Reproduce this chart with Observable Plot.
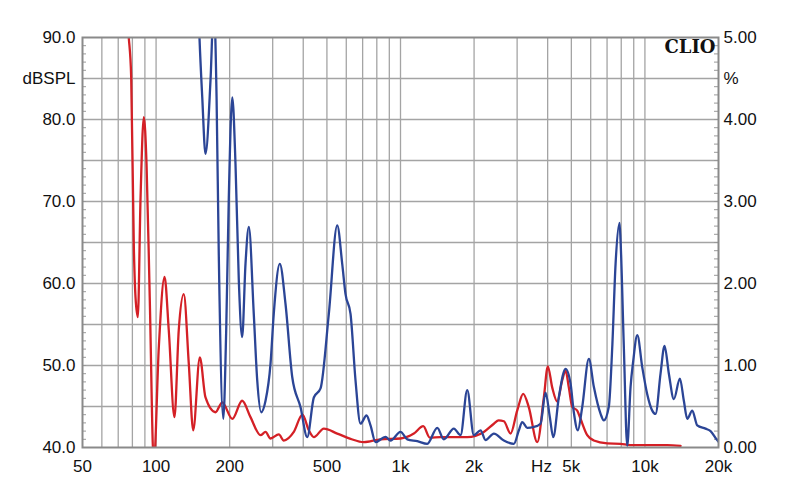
<!DOCTYPE html>
<html>
<head>
<meta charset="utf-8">
<script src="https://cdn.jsdelivr.net/npm/d3@7"></script>
<script src="https://cdn.jsdelivr.net/npm/@observablehq/plot@0.6"></script>
<style>
  html, body { margin: 0; padding: 0; background: #fff; }
</style>
</head>
<body>
<div id="chart"></div>
<script>
// Red curve: frequency (Hz) and level (dBSPL, left axis)
const redFreq = [76, 77.3, 79.1, 81.1, 82.4, 84.2, 86.4, 89.1, 91.4, 94.2, 97.9, 102.6, 108.3, 112.7, 118.9, 123.8, 129.8, 136.1, 141.9, 151, 159.3, 175, 186.5, 205, 225, 243.4, 267.5, 280.4, 293.9, 317.8, 333, 366, 397, 421.6, 442, 485.6, 551, 624.5, 708, 828, 1000, 1134, 1239, 1318, 1458, 1875, 2192, 2410, 2520, 2648, 2820, 3002, 3177, 3350, 3627, 3859, 4007, 4177, 4378, 4589, 4735, 4884, 5043, 5285, 5452, 5807, 6180, 7015, 7950, 8700, 10220, 12340, 13990];
const redDb = [92.5, 90.0, 85.2, 64.4, 58.3, 55.9, 70.5, 80.3, 74.6, 58.3, 38.0, 52.2, 60.8, 54.3, 43.7, 54.3, 58.7, 50.2, 42.1, 51.0, 46.1, 44.3, 45.5, 43.5, 45.7, 43.7, 41.5, 41.9, 41.1, 41.6, 40.85, 41.9, 44.0, 42.1, 41.26, 42.3, 41.7, 41.06, 40.65, 41.0, 41.1, 41.7, 42.6, 41.2, 41.26, 41.26, 41.9, 42.9, 43.3, 43.2, 41.7, 44.5, 46.55, 44.9, 40.65, 46.1, 49.9, 47.3, 45.6, 48.2, 49.4, 47.3, 44.96, 44.5, 43.5, 41.5, 40.85, 40.5, 40.45, 40.3, 40.3, 40.3, 40.2];

// Blue curve: frequency (Hz) and distortion (%, right axis)
const blueFreq = [148.5, 150.6, 154.5, 159.3, 167, 172.3, 176.8, 180.6, 188.3, 193.6, 198.4, 205, 211.3, 218, 225, 232.2, 239.6, 251, 259.3, 269.2, 280.4, 293.9, 303, 320.8, 338.5, 360.6, 390, 415.4, 442, 470.8, 509, 551, 577.5, 595.8, 624.5, 654.5, 686, 726, 754, 790, 868, 910, 1000, 1066, 1171, 1287, 1414, 1504, 1653, 1761, 1875, 1995, 2126, 2228, 2410, 2648, 2910, 3050, 3148, 3300, 3512, 3741, 3922, 4083, 4216, 4443, 4735, 4962, 5118, 5315, 5538, 5897, 6180, 6587, 6790, 7119, 7350, 7585, 7873, 7950, 8200, 8465, 8735, 8960, 9307, 9750, 10220, 10715, 11055, 11585, 12030, 12530, 13135, 13900, 14430, 14900, 15620, 16370, 17700, 18560, 19640, 20000];
const bluePct = [5.5, 4.98, 4.27, 3.58, 4.48, 5.4, 4.27, 2.32, 0.35, 1.43, 3.05, 4.27, 3.46, 2.04, 1.345, 2.24, 2.69, 1.63, 0.82, 0.43, 0.57, 1.02, 1.63, 2.24, 1.75, 0.86, 0.49, 0.126, 0.61, 0.72, 1.63, 2.71, 2.24, 1.87, 1.63, 0.82, 0.29, 0.39, 0.27, 0.065, 0.13, 0.085, 0.19, 0.1, 0.077, 0.045, 0.24, 0.1, 0.23, 0.15, 0.70, 0.15, 0.21, 0.09, 0.17, 0.085, 0.045, 0.21, 0.31, 0.24, 0.25, 0.29, 0.67, 0.37, 0.126, 0.61, 0.96, 0.78, 0.43, 0.21, 0.49, 1.08, 0.74, 0.41, 0.33, 0.5, 1.22, 2.24, 2.74, 2.52, 1.22, 0.02, 0.74, 1.06, 1.37, 0.98, 0.65, 0.45, 0.41, 0.90, 1.24, 0.90, 0.59, 0.84, 0.57, 0.35, 0.45, 0.27, 0.23, 0.2, 0.1, 0.07];

// Axis ticks and labels
const xTicks = [50, 100, 200, 500, 1000, 2000, 3775, 5000, 10000, 20000];
const xTickLabels = ["50", "100", "200", "500", "1k", "2k", "Hz", "5k", "10k", "20k"];
const yTicks = [40, 50, 60, 70, 80, 85, 90];
const yLeftLabels = ["40.0", "50.0", "60.0", "70.0", "80.0", "dBSPL", "90.0"];
const yRightLabels = ["0.00", "1.00", "2.00", "3.00", "4.00", "%", "5.00"];
const xGrid = [60, 70, 80, 90, 100, 200, 300, 400, 500, 600, 700, 800, 900, 1000, 2000, 3000, 4000, 5000, 6000, 7000, 8000, 9000, 10000];
const yGrid = [45, 50, 55, 60, 65, 70, 75, 80, 85];
const yMinor = d3.range(41, 90, 1);

const red = redFreq.map((f, i) => ({f, v: redDb[i]}));
const blue = bluePct.map((p, i) => ({f: blueFreq[i], v: 40 + p * 10}));

const yL = new Map(yTicks.map((t, i) => [t, yLeftLabels[i]]));
const yR = new Map(yTicks.map((t, i) => [t, yRightLabels[i]]));

const chart = Plot.plot({
  width: 800,
  height: 504,
  marginLeft: 82,
  marginRight: 82,
  marginTop: 37,
  marginBottom: 57,
  style: {fontFamily: "'Liberation Sans', Arial, sans-serif", fontSize: "17px", color: "#111", background: "#fff"},
  x: {type: "log", domain: [50, 20000], axis: null},
  y: {domain: [40, 90]},
  marks: [
    Plot.ruleX(xGrid, {x: d => d, stroke: "#a4a4a4", strokeWidth: 1.3}),
    Plot.ruleY(yGrid, {y: d => d, stroke: "#a4a4a4", strokeWidth: 1.3}),
    Plot.tickY(yMinor, {y: d => d, insetRight: 632, stroke: "#999", strokeWidth: 1}),
    Plot.tickY(yMinor, {y: d => d, insetLeft: 632, stroke: "#999", strokeWidth: 1}),
    Plot.line(red, {x: "f", y: "v", stroke: "#d42026", strokeWidth: 2.3, curve: "monotone-x", clip: true}),
    Plot.line(blue, {x: "f", y: "v", stroke: "#2b4596", strokeWidth: 2.3, curve: "monotone-x", clip: true}),
    Plot.frame({stroke: "#8a8a8a", strokeWidth: 2}),
    Plot.text(["CLIO"], {frameAnchor: "top-right", dx: -3, dy: 3, fontFamily: "'DejaVu Serif', 'Liberation Serif', serif", fontWeight: "bold", fontSize: 18, fill: "#111", lineAnchor: "top"}),
    Plot.text(xTicks, {x: d => d, text: (d, i) => xTickLabels[i], frameAnchor: "bottom", lineAnchor: "top", dy: 12, fill: "#111"}),
    Plot.axisY({anchor: "left", ticks: yTicks, tickFormat: d => yL.get(d), tickSize: 0, tickPadding: 7, label: null}),
    Plot.axisY({anchor: "right", ticks: yTicks, tickFormat: d => yR.get(d), tickSize: 0, tickPadding: 5, label: null})
  ]
});
document.getElementById("chart").appendChild(chart);
</script>
</body>
</html>
